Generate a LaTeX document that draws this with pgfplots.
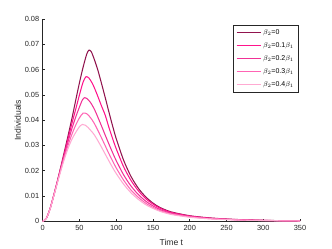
\documentclass[border=0pt]{standalone}
\usepackage{pgfplots}
\pgfplotsset{compat=1.18}
\usepackage{fontspec}
\setmainfont{Liberation Sans}
\definecolor{axc}{rgb}{0.15,0.15,0.15}
\definecolor{c0}{RGB}{145,20,78}
\definecolor{c1}{RGB}{255,20,140}
\definecolor{c2}{RGB}{240,50,150}
\definecolor{c3}{RGB}{255,100,180}
\definecolor{c4}{RGB}{255,170,210}
\begin{document}
\begin{tikzpicture}
\path[use as bounding box] (-42.7pt,-27.7pt) rectangle (289.3pt,221.3pt);
\begin{axis}[
  at={(0,0)}, anchor=south west,
  scale only axis, width=257.3pt, height=202.3pt,
  xmin=0, xmax=350, ymin=0, ymax=0.08,
  axis lines=left, axis line style={axc, -, line width=0.5pt},
  tick align=inside, major tick length=2.5pt, tick style={axc, line width=0.5pt},
  xtick={0,50,...,350},
  ytick={0,0.01,0.02,0.03,0.04,0.05,0.06,0.07,0.08},
  yticklabels={0,0.01,0.02,0.03,0.04,0.05,0.06,0.07,0.08},
  scaled y ticks=false,
  /pgf/number format/assume math mode=true,
  tick label style={font=\fontsize{7.4}{8}\selectfont, text=axc},
  xlabel={Time t}, ylabel={Individuals},
  label style={font=\fontsize{8.6}{9.5}\selectfont, text=axc},
  xlabel style={at={(axis description cs:0.5,-0.104)}, anchor=center},
  ylabel style={at={(axis description cs:-0.097,0.5)}, anchor=center},
  legend style={at={(axis description cs:0.996,0.972)}, anchor=north east,
    draw=axc, line width=0.5pt, font=\fontsize{7}{8}\selectfont,
    inner xsep=3pt, inner ysep=2.5pt, row sep=2.6pt},
  legend cell align=left,
  legend image code/.code={\draw[#1] (0pt,0pt) -- (24pt,0pt);},
  every axis plot/.append style={line width=1.05pt, smooth, tension=0.45},
]
\addplot[c0] coordinates {(0,0) (5,0.0012) (10,0.0050) (15,0.0103) (20,0.0160) (25,0.0220) (30,0.0282) (35,0.0345) (40,0.0410) (45,0.0480) (50,0.0548) (55,0.0610) (60,0.0662) (63,0.0677) (66,0.0671) (70,0.0642) (75,0.0598) (80,0.0545) (85,0.0490) (90,0.0433) (95,0.0378) (100,0.0327) (110,0.0242) (120,0.0178) (130,0.0131) (140,0.0097) (150,0.0072) (160,0.0054) (175,0.0037) (200,0.0022) (225,0.0014) (250,0.0009) (275,0.0006) (300,0.0004) (325,0.00025) (350,0.00017)};
\addplot[c1] coordinates {(0,0) (5,0.0012) (10,0.0050) (15,0.0102) (20,0.0158) (25,0.0216) (30,0.0275) (35,0.0333) (40,0.0390) (45,0.0444) (50,0.0500) (55,0.0551) (59,0.0572) (63,0.0566) (67,0.0548) (70,0.0530) (75,0.0494) (80,0.0456) (85,0.0420) (90,0.0372) (95,0.0328) (100,0.0287) (110,0.0216) (120,0.0162) (130,0.0121) (140,0.0090) (150,0.0068) (160,0.0051) (175,0.0035) (200,0.0021) (225,0.0013) (250,0.00085) (275,0.00055) (300,0.00037) (325,0.00023) (350,0.00015)};
\addplot[c2] coordinates {(0,0) (5,0.0012) (10,0.0049) (15,0.0101) (20,0.0156) (25,0.0212) (30,0.0267) (35,0.0320) (40,0.0369) (45,0.0413) (50,0.0452) (54,0.0480) (57,0.0489) (60,0.0486) (65,0.0470) (70,0.0445) (75,0.0412) (80,0.0377) (85,0.0341) (90,0.0306) (95,0.0272) (100,0.0240) (110,0.0184) (120,0.0140) (130,0.0106) (140,0.0080) (150,0.0061) (160,0.0046) (175,0.0032) (200,0.0019) (225,0.0012) (250,0.0008) (275,0.0005) (300,0.00034) (325,0.00021) (350,0.00014)};
\addplot[c3] coordinates {(0,0) (5,0.0012) (10,0.0049) (15,0.0100) (20,0.0154) (25,0.0208) (30,0.0259) (35,0.0305) (40,0.0346) (45,0.0381) (50,0.0409) (55,0.0428) (60,0.0425) (65,0.0410) (70,0.0388) (75,0.0360) (80,0.0330) (85,0.0299) (90,0.0268) (95,0.0239) (100,0.0211) (110,0.0163) (120,0.0124) (130,0.0095) (140,0.0072) (150,0.0055) (160,0.0042) (175,0.0029) (200,0.0018) (225,0.0011) (250,0.00074) (275,0.00047) (300,0.00031) (325,0.0002) (350,0.00013)};
\addplot[c4] coordinates {(0,0) (5,0.0012) (10,0.0048) (15,0.0099) (20,0.0152) (25,0.0203) (30,0.0251) (35,0.0292) (40,0.0326) (45,0.0352) (50,0.0374) (54,0.0383) (58,0.0380) (62,0.0370) (66,0.0357) (70,0.0343) (75,0.0319) (80,0.0293) (85,0.0266) (90,0.0239) (95,0.0213) (100,0.0189) (110,0.0147) (120,0.0113) (130,0.0087) (140,0.0066) (150,0.0051) (160,0.0039) (175,0.0027) (200,0.0016) (225,0.0010) (250,0.00068) (275,0.00044) (300,0.00029) (325,0.00019) (350,0.00012)};
\legend{$\beta_2$=0, $\beta_2$=0.1$\beta_1$, $\beta_2$=0.2$\beta_1$, $\beta_2$=0.3$\beta_1$, $\beta_2$=0.4$\beta_1$}
\end{axis}
\end{tikzpicture}
\end{document}
